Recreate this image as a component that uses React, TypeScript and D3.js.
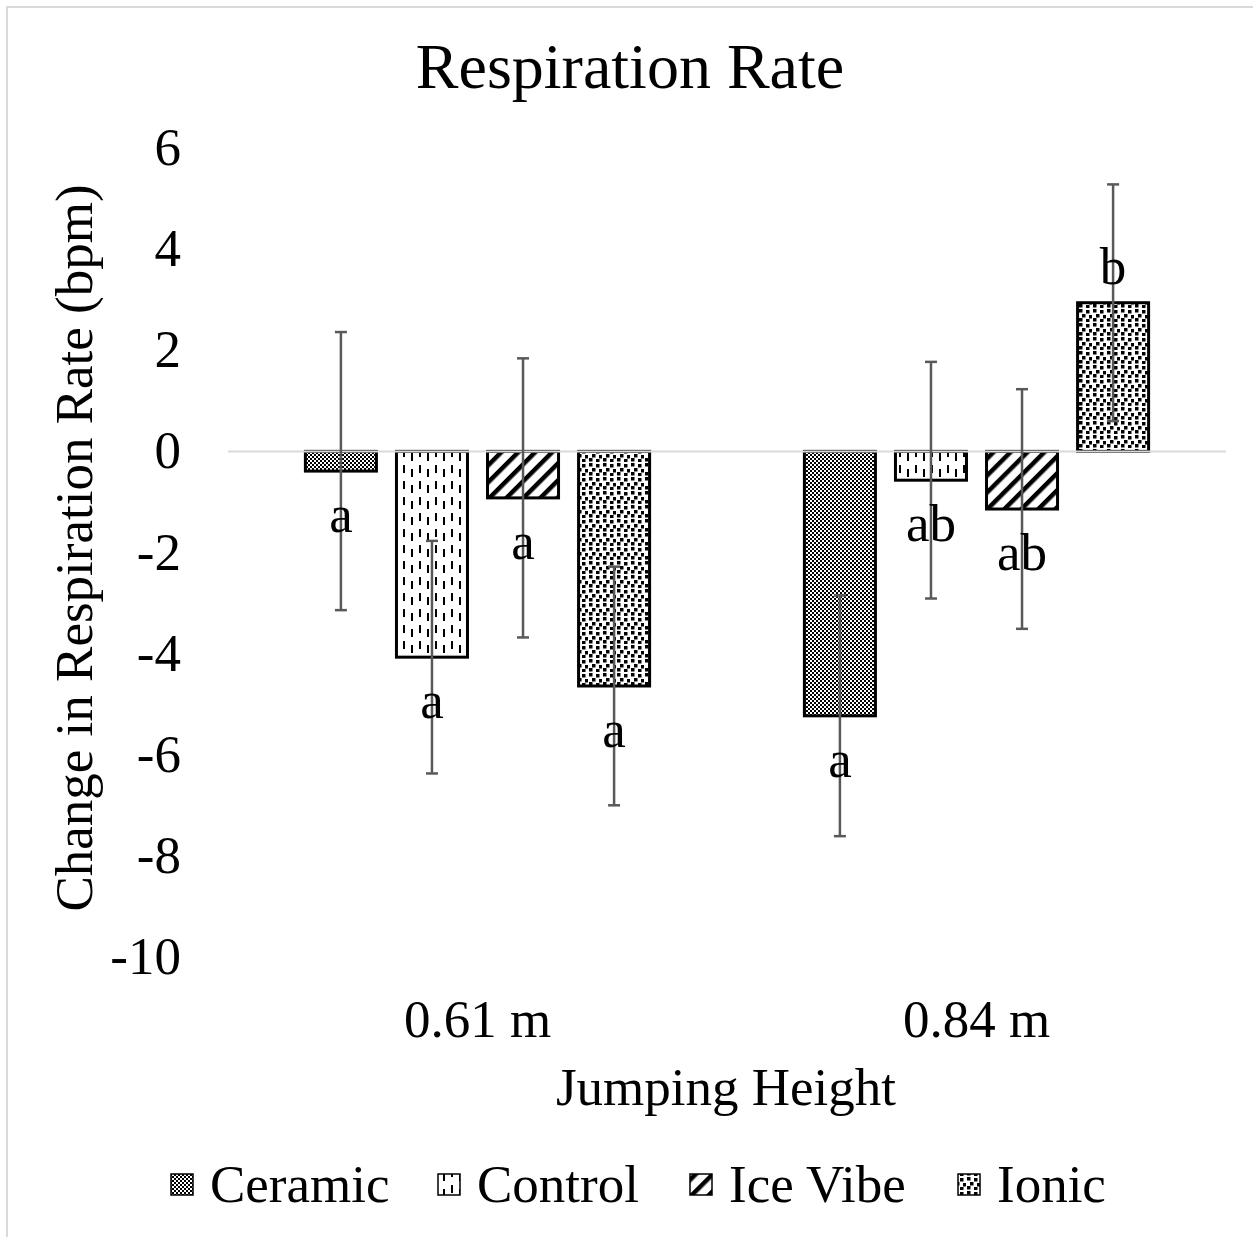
import * as d3 from 'd3';
import React from 'react';

// values
const categories = ['0.61 m', '0.84 m'];
const series = ['Ceramic', 'Control', 'Ice Vibe', 'Ionic'];

const ceramic = [-0.39, -5.23];
const control = [-4.07, -0.57];
const iceVibe = [-0.92, -1.14];
const ionic = [-4.64, 2.94];

const ceramicErr = [2.75, 2.38];
const controlErr = [2.3, 2.34];
const iceVibeErr = [2.76, 2.37];
const ionicErr = [2.36, 2.34];

const ceramicLetters = ['a', 'a'];
const controlLetters = ['a', 'ab'];
const iceVibeLetters = ['a', 'ab'];
const ionicLetters = ['a', 'b'];

const yTicks = [6, 4, 2, 0, -2, -4, -6, -8, -10];

const means = [ceramic, control, iceVibe, ionic];
const errs = [ceramicErr, controlErr, iceVibeErr, ionicErr];
const letters = [ceramicLetters, controlLetters, iceVibeLetters, ionicLetters];
const patternIds = ['pCeramic', 'pControl', 'pIce', 'pIonic'];

const font = '"Liberation Serif", "Times New Roman", serif';

function App() {
  const width = 1253;
  const height = 1237;

  const x0 = d3.scaleBand().domain(categories).range([228, 1226]);
  const x1 = d3
    .scaleBand()
    .domain(series)
    .range([0, x0.bandwidth()])
    .paddingInner(0.22)
    .paddingOuter(0.85);
  const y = d3.scaleLinear().domain([-10, 6]).range([957, 148]);

  const legendX = [171, 438, 690, 958];

  return (
    <svg
      width={width}
      height={height}
      style={{ position: 'absolute', left: 0, top: 0, background: '#fff' }}
      fontFamily={font}
    >
      <defs>
        <pattern id="pCeramic" width={4} height={4} patternUnits="userSpaceOnUse">
          <rect width={4} height={4} fill="#fff" />
          <rect x={0} y={0} width={2} height={2} fill="#000" />
          <rect x={2} y={2} width={2} height={2} fill="#000" />
        </pattern>
        <pattern id="pControl" width={16} height={16} patternUnits="userSpaceOnUse">
          <rect width={16} height={16} fill="#fff" />
          <rect x={3} y={1} width={2} height={8} fill="#000" />
          <rect x={11} y={5} width={2} height={8} fill="#000" />
        </pattern>
        <pattern
          id="pIce"
          width={12}
          height={12}
          patternUnits="userSpaceOnUse"
          patternTransform="rotate(45)"
        >
          <rect width={12} height={12} fill="#fff" />
          <rect x={0} y={0} width={4.5} height={12} fill="#000" />
        </pattern>
        <pattern id="pIonic" width={14} height={14} patternUnits="userSpaceOnUse">
          <rect width={14} height={14} fill="#fff" />
          <rect x={1} y={1} width={3.5} height={3.5} fill="#000" />
          <rect x={8} y={2} width={3.5} height={3.5} fill="#000" />
          <rect x={4} y={6} width={3.5} height={3.5} fill="#000" />
          <rect x={11} y={7} width={3} height={3.5} fill="#000" />
          <rect x={1} y={10} width={3.5} height={3.5} fill="#000" />
          <rect x={8} y={11} width={3.5} height={3} fill="#000" />
        </pattern>
      </defs>

      <rect x={7} y={7} width={width} height={height} fill="#fff" stroke="#d9d9d9" strokeWidth={2} />

      <text x={630} y={88} textAnchor="middle" fontSize={64}>
        Respiration Rate
      </text>

      {/* y axis tick labels */}
      {yTicks.map((t) => (
        <text key={t} x={181} y={y(t) + 17} textAnchor="end" fontSize={53}>
          {t}
        </text>
      ))}

      <text
        transform={`translate(92, 548) rotate(-90)`}
        textAnchor="middle"
        fontSize={53}
      >
        Change in Respiration Rate (bpm)
      </text>

      {/* bars */}
      {series.map((s, si) =>
        categories.map((c, ci) => {
          const v = means[si][ci];
          const bx = (x0(c) as number) + (x1(s) as number);
          return (
            <rect
              key={s + c}
              x={bx}
              y={Math.min(y(v), y(0))}
              width={x1.bandwidth()}
              height={Math.abs(y(v) - y(0))}
              fill={`url(#${patternIds[si]})`}
              stroke="#000"
              strokeWidth={3}
            />
          );
        })
      )}

      <line x1={228} x2={1226} y1={y(0)} y2={y(0)} stroke="#d9d9d9" strokeWidth={2} />

      {/* error bars */}
      {series.map((s, si) =>
        categories.map((c, ci) => {
          const v = means[si][ci];
          const e = errs[si][ci];
          const cx = (x0(c) as number) + (x1(s) as number) + x1.bandwidth() / 2;
          return (
            <g key={'e' + s + c} stroke="#595959" strokeWidth={2.5}>
              <line x1={cx} x2={cx} y1={y(v + e)} y2={y(v - e)} />
              <line x1={cx - 6} x2={cx + 6} y1={y(v + e)} y2={y(v + e)} />
              <line x1={cx - 6} x2={cx + 6} y1={y(v - e)} y2={y(v - e)} />
            </g>
          );
        })
      )}

      {/* significance letters */}
      {series.map((s, si) =>
        categories.map((c, ci) => {
          const v = means[si][ci];
          const cx = (x0(c) as number) + (x1(s) as number) + x1.bandwidth() / 2;
          const ly = v < 0 ? y(v) + 61 : y(v) - 19;
          return (
            <text key={'l' + s + c} x={cx} y={ly} textAnchor="middle" fontSize={53}>
              {letters[si][ci]}
            </text>
          );
        })
      )}

      {/* x axis labels */}
      {categories.map((c) => (
        <text
          key={c}
          x={(x0(c) as number) + x0.bandwidth() / 2}
          y={1037}
          textAnchor="middle"
          fontSize={53}
        >
          {c}
        </text>
      ))}

      <text x={726} y={1105} textAnchor="middle" fontSize={53}>
        Jumping Height
      </text>

      {/* legend */}
      {series.map((s, si) => (
        <g key={'lg' + s}>
          <rect
            x={legendX[si]}
            y={1174}
            width={22}
            height={21}
            fill={`url(#${patternIds[si]})`}
            stroke="#000"
            strokeWidth={1.5}
          />
          <text x={legendX[si] + 39} y={1202} fontSize={53}>
            {s}
          </text>
        </g>
      ))}
    </svg>
  );
}

export default App;
